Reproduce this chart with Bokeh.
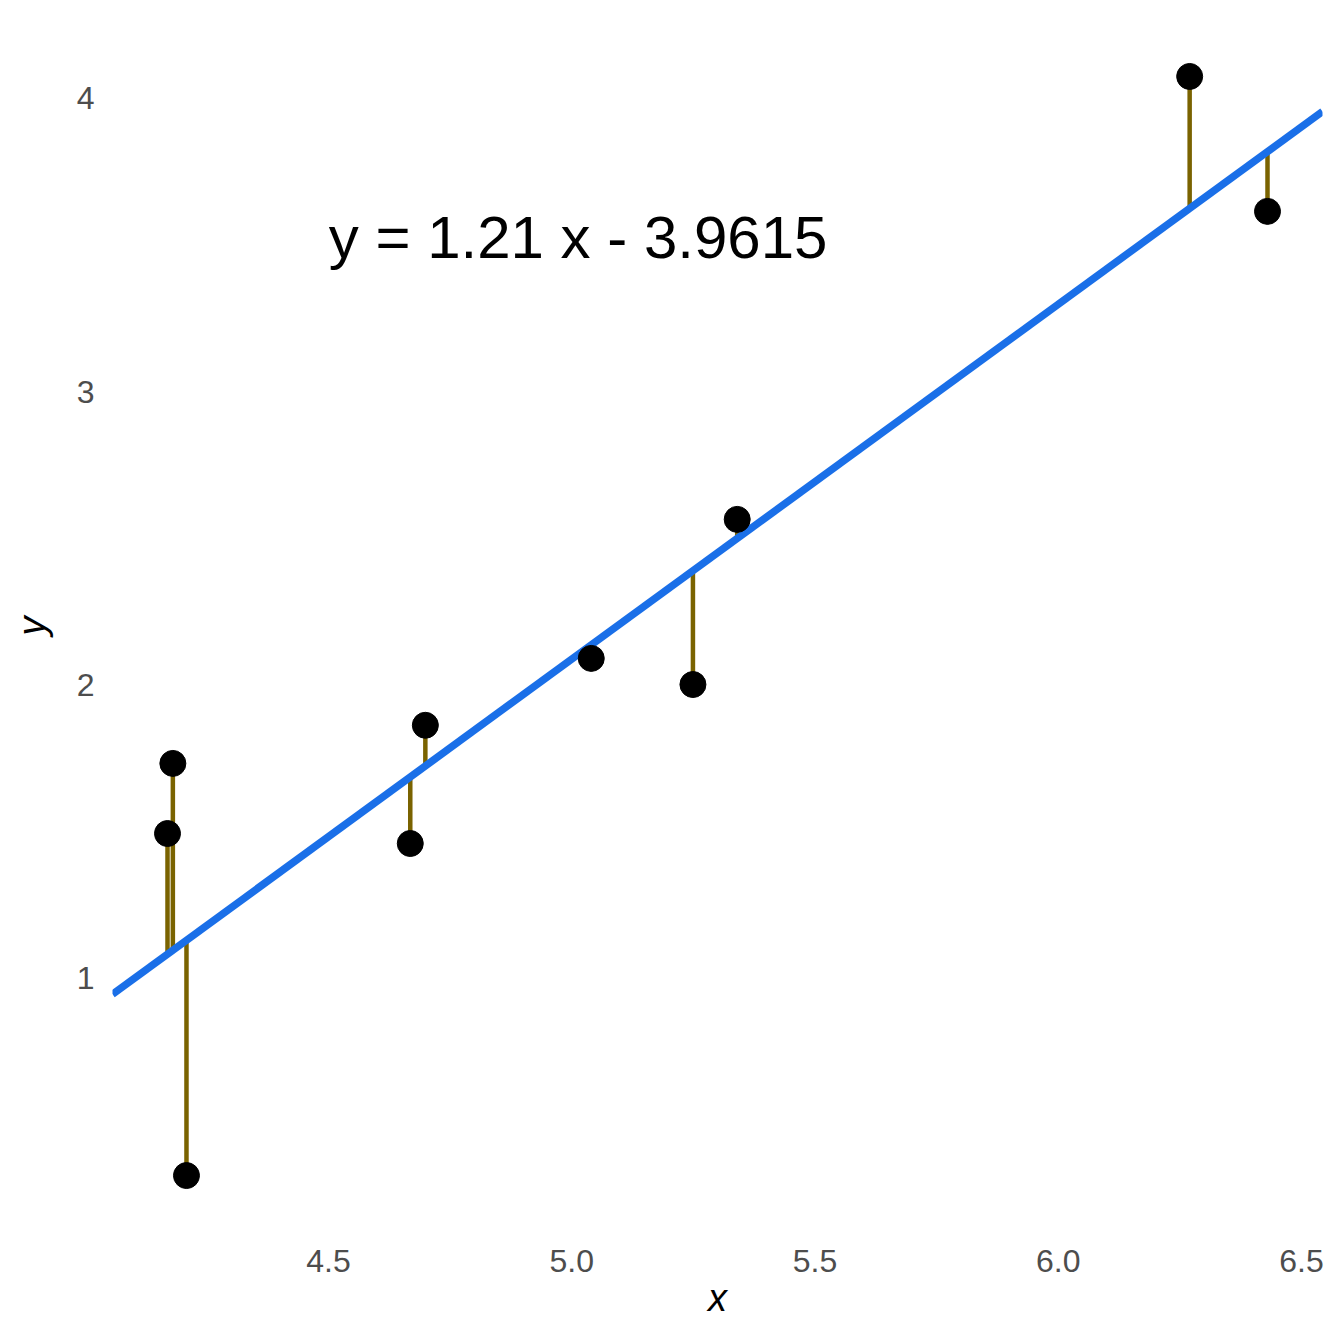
from bokeh.plotting import figure
from bokeh.models import Range1d, FixedTicker, ColumnDataSource
from bokeh.embed import file_html
from bokeh.resources import INLINE
from bokeh.core.properties import value

# data
x_vals = [4.169, 4.180, 4.208, 4.668, 4.699, 5.040, 5.249, 5.340, 6.270, 6.430]
y_vals = [1.494, 1.733, 0.328, 1.460, 1.863, 2.091, 2.002, 2.565, 4.075, 3.615]
slope = 1.21
intercept = -3.9615
label_text = "y = 1.21 x - 3.9615"
x_ticks = [4.5, 5.0, 5.5, 6.0, 6.5]
y_ticks = [1, 2, 3, 4]

fitted = [slope * xv + intercept for xv in x_vals]

xr = max(x_vals) - min(x_vals)
yr = max(y_vals) - min(y_vals)
x_lo, x_hi = min(x_vals) - 0.05 * xr, max(x_vals) + 0.05 * xr
y_lo, y_hi = min(y_vals) - 0.05 * yr, max(y_vals) + 0.05 * yr

p = figure(width=1336, height=1336, output_backend="svg", toolbar_location=None,
           x_range=Range1d(x_lo, x_hi), y_range=Range1d(y_lo, y_hi),
           min_border_left=112, min_border_right=14, min_border_top=21, min_border_bottom=106)
p.outline_line_color = None
p.grid.visible = False
p.background_fill_color = "white"
p.border_fill_color = "white"

src = ColumnDataSource(dict(x=x_vals, y=y_vals, fit=fitted))
p.segment(x0="x", y0="y", x1="x", y1="fit", source=src, line_color="#7A6300", line_width=4.5)

fx = [x_lo, x_hi]
fy = [slope * v + intercept for v in fx]
p.line(fx, fy, line_color="#1A6FE8", line_width=7.5)

p.scatter(x="x", y="y", source=src, size=26, fill_color="black", line_color="black")

p.text(x=[5.013], y=[3.525], text=[label_text], text_font=value("Liberation Sans"),
       text_font_size="60px", text_align="center", text_baseline="middle", text_color="black")

for ax in (p.xaxis[0], p.yaxis[0]):
    ax.axis_line_color = None
    ax.major_tick_line_color = None
    ax.minor_tick_line_color = None
    ax.major_label_text_font = "Liberation Sans"
    ax.major_label_text_font_size = "32px"
    ax.major_label_text_color = "#4D4D4D"
    ax.axis_label_text_font = "Liberation Sans"
    ax.axis_label_text_font_size = "38px"
    ax.axis_label_text_font_style = "italic"
    ax.axis_label_text_color = "black"

p.xaxis[0].ticker = FixedTicker(ticks=x_ticks)
p.yaxis[0].ticker = FixedTicker(ticks=y_ticks)
p.xaxis[0].major_label_overrides = {4.5: "4.5", 5.0: "5.0", 5.5: "5.5", 6.0: "6.0", 6.5: "6.5"}
p.xaxis[0].axis_label = "x"
p.yaxis[0].axis_label = "y"
p.xaxis[0].major_label_standoff = 13
p.yaxis[0].major_label_standoff = 12
p.xaxis[0].axis_label_standoff = 2
p.yaxis[0].axis_label_standoff = 21

open("out.html", "w").write(file_html(p, INLINE))
